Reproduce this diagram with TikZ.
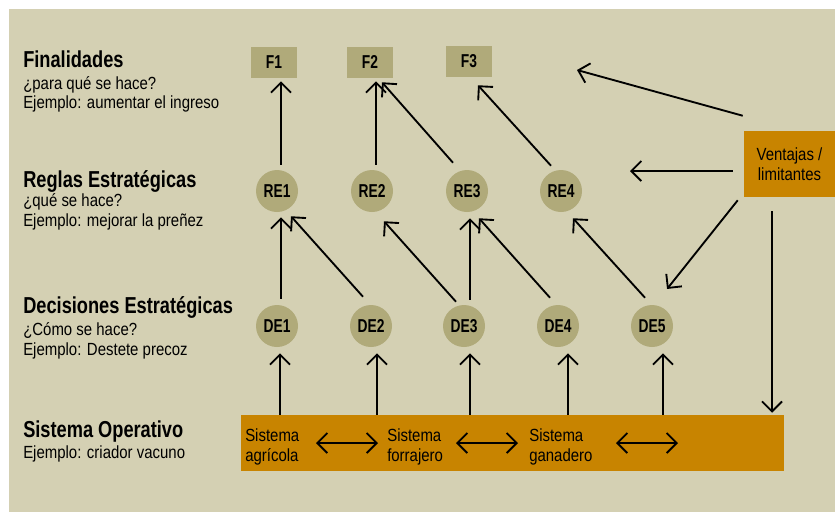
\documentclass[tikz,border=0pt]{standalone}
\usepackage{fontspec}
\setmainfont{Liberation Sans}[FakeStretch=0.85]
\newfontfamily\condf{Liberation Sans}[FakeStretch=0.74]
\newfontfamily\headf{Liberation Sans}[FakeStretch=0.79]
\usetikzlibrary{arrows.meta,calc}
\definecolor{bgc}{RGB}{212,208,179}
\definecolor{nodec}{RGB}{176,170,122}
\definecolor{orangec}{RGB}{200,132,0}
\begin{document}
\begin{tikzpicture}[x=0.75pt,y=-0.75pt,
  fbox/.style={fill=nodec, minimum width=34.5pt, minimum height=23.25pt, inner sep=0pt,
    font=\condf\bfseries\fontsize{14}{16}\selectfont},
  circ/.style={circle, fill=nodec, minimum size=31.5pt, inner sep=0pt,
    font=\condf\bfseries\fontsize{14}{16}\selectfont},
  obox/.style={fill=orangec, inner sep=0pt},
  heading/.style={anchor=base west, inner sep=0pt, font=\headf\bfseries\fontsize{17.3}{19}\selectfont},
  sub/.style={anchor=base west, inner sep=0pt, font=\fontsize{13.2}{15}\selectfont},
  arr/.style={-{Straight Barb[length=7.5pt,width=15pt]}, line width=1.4pt},
  darr/.style={{Straight Barb[length=7.5pt,width=15pt]}-{Straight Barb[length=7.5pt,width=15pt]}, line width=1.4pt}
]
\useasboundingbox (0,0) rectangle (835,512);
\fill[bgc] (9,9) rectangle (835,512);

% left labels
\node[heading] (h1) at (23,67) {Finalidades};
\node[sub] (s1a) at (23,89) {¿para qué se hace?};
\node[sub] (s1b) at (23,108) {Ejemplo: aumentar el ingreso};
\node[heading] (h2) at (23,187) {Reglas Estratégicas};
\node[sub] (s2a) at (23,206) {¿qué se hace?};
\node[sub] (s2b) at (23,226) {Ejemplo: mejorar la preñez};
\node[heading] (h3) at (23,313) {Decisiones Estratégicas};
\node[sub] (s3a) at (23,335) {¿Cómo se hace?};
\node[sub] (s3b) at (23,355) {Ejemplo: Destete precoz};
\node[heading] (h4) at (23,437) {Sistema Operativo};
\node[sub] (s4a) at (23,458) {Ejemplo: criador vacuno};

% finalities
\node[fbox] (F1) at (274,62.5) {F1};
\node[fbox] (F2) at (370,62) {F2};
\node[fbox] (F3) at (469,61.5) {F3};

% rules
\node[circ] (RE1) at (277,191) {RE1};
\node[circ] (RE2) at (372,191) {RE2};
\node[circ] (RE3) at (467,191) {RE3};
\node[circ] (RE4) at (561,191) {RE4};

% decisions
\node[circ] (DE1) at (277,326) {DE1};
\node[circ] (DE2) at (371,326) {DE2};
\node[circ] (DE3) at (464,326) {DE3};
\node[circ] (DE4) at (558,326) {DE4};
\node[circ] (DE5) at (652,326) {DE5};

% operating system bar
\node[obox, minimum width=407.25pt, minimum height=42pt] (bar) at (512.5,443) {};
\node[sub] (sa1) at (245,441) {Sistema};
\node[sub] (sa2) at (245,461) {agrícola};
\node[sub] (sf1) at (387,441) {Sistema};
\node[sub] (sf2) at (387,461) {forrajero};
\node[sub] (sg1) at (529,441) {Sistema};
\node[sub] (sg2) at (529,461) {ganadero};

% Ventajas box
\node[obox, minimum width=68.25pt, minimum height=49.5pt, align=center,
  font=\fontsize{13.2}{15}\selectfont] (V) at (789.5,164) {Ventajas /\\limitantes};

% RE -> F
\draw[arr] ($(RE1.north)+(4,-5)$) -- ($(F1.south)+(7,3)$);
\draw[arr] ($(RE2.north)+(4,-5)$) -- ($(F2.south)+(6,3.5)$);
\draw[arr] ($(RE3.north)+(-14,-7)$) -- ($(F2.south)+(12,4.5)$);
\draw[arr] ($(RE4.north)+(-10,-4)$) -- ($(F3.south)+(9,8)$);

% DE -> RE
\draw[arr] ($(DE1.north)+(4,-6)$) -- ($(RE1.south)+(4,5)$);
\draw[arr] ($(DE2.north)+(-8,-8)$) -- ($(RE1.south)+(14,4)$);
\draw[arr] ($(DE3.north)+(-8,-3)$) -- ($(RE2.south)+(12,9)$);
\draw[arr] ($(DE3.north)+(6,-5)$) -- ($(RE3.south)+(3,6)$);
\draw[arr] ($(DE4.north)+(-8,-7)$) -- ($(RE3.south)+(12,6)$);
\draw[arr] ($(DE5.north)+(-7,-7)$) -- ($(RE4.south)+(12,6)$);

% bar -> DE
\draw[arr] ($(bar.north -| DE1)+(3,0)$) -- ($(DE1.south)+(3,6)$);
\draw[arr] ($(bar.north -| DE2)+(6,0)$) -- ($(DE2.south)+(6,6)$);
\draw[arr] ($(bar.north -| DE3)+(6,0)$) -- ($(DE3.south)+(6,6)$);
\draw[arr] ($(bar.north -| DE4)+(10,0)$) -- ($(DE4.south)+(10,6)$);
\draw[arr] ($(bar.north -| DE5)+(11,0)$) -- ($(DE5.south)+(11,6)$);

% double arrows inside bar
\coordinate (d1a) at (316,443); \coordinate (d1b) at (378,443);
\coordinate (d2a) at (456,443); \coordinate (d2b) at (518,443);
\coordinate (d3a) at (616,443); \coordinate (d3b) at (678,443);
\draw[darr] (d1a) -- (d1b);
\draw[darr] (d2a) -- (d2b);
\draw[darr] (d3a) -- (d3b);

% Ventajas arrows
\coordinate (t1) at (577,70);
\coordinate (t2) at (630,171);
\draw[arr] ($(V.north west)+(-1,-15)$) -- (t1);
\draw[arr] ($(V.west)+(-11,7)$) -- (t2);
\draw[arr] ($(V.south west)+(-6,3)$) -- ($(DE5.north east)+(0,-22)$);
\coordinate (v4) at ($(V.south)+(-17.5,14)$);
\draw[arr] (v4) -- ($(bar.north -| v4)+(0,-2)$);
\end{tikzpicture}
\end{document}
